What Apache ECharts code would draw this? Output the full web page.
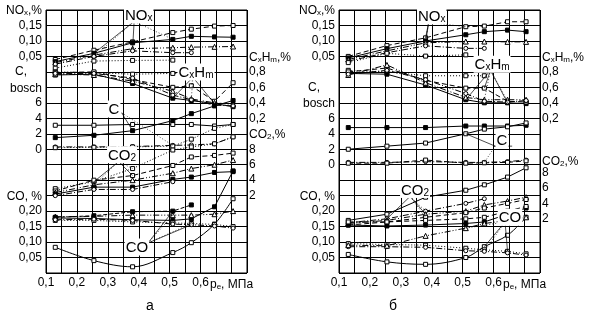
<!DOCTYPE html>
<html>
<head>
<meta charset="utf-8">
<script src="https://cdn.jsdelivr.net/npm/echarts@6/dist/echarts.min.js"></script>
<style>
html,body{margin:0;padding:0;background:#fff}
#chart{width:590px;height:321px}
</style>
</head>
<body>
<div id="chart"></div>
<script>
// нагрузка p_e, МПа (общая для обеих панелей)
const pe = [0.13, 0.255, 0.38, 0.51, 0.57, 0.645, 0.705];
const xTicks = [0.1, 0.2, 0.3, 0.4, 0.5, 0.6];

const noxTicks = [0.05, 0.10, 0.15];
const cTicks = [0, 2, 4, 6];
const coTicks = [0.05, 0.10, 0.15, 0.20];
const cxhmTicks = [0.2, 0.4, 0.6, 0.8];
const co2Ticks = [2, 4, 6, 8];

// панель а
const noxA = [
  [0.040, 0.070, 0.097, 0.127, 0.138, 0.148, 0.150],
  [0.033, 0.060, 0.094, 0.105, 0.115, 0.113, 0.112],
  [0.030, 0.054, 0.075, 0.078, 0.080, 0.081, 0.082],
  [0.025, 0.050, 0.068, 0.062, 0.062],
  [0.012, 0.035, 0.037, 0.038]
];
const cxhmA = [
  [0.80, 0.79, 0.77, 0.78, 0.78],
  [0.76, 0.77, 0.65, 0.46, 0.43, 0.39, 0.35],
  [0.79, 0.80, 0.70, 0.60, 0.62, 0.42, 0.66],
  [0.77, 0.76, 0.68, 0.55, 0.45, 0.40, 0.38],
  [0.78, 0.78, 0.72, 0.50, 0.44, 0.37, 0.36]
];
const cA = [
  [3.1, 3.1, 3.2, 3.2, 3.2, 3.0, 3.2],
  [1.5, 1.8, 2.4, 3.7, 4.6, 5.6, 6.3],
  [0.3, 0.3, 0.35, 0.5, 0.55, 0.7, 1.6],
  [0.2, 0.25, 0.3, 0.4, 1.3, 2.7, 3.2]
];
const co2A = [
  [2.9, 3.8, 5.5, 7.9, 8.3, 8.7, 9.6],
  [2.6, 4.0, 4.6, 5.9, 7.0, 7.2, 7.5],
  [2.4, 3.4, 4.0, 4.9, 5.5, 6.0, 6.6],
  [2.2, 3.1, 3.1, 4.1, 4.4, 5.0, 5.1],
  [2.0, 2.8, 2.8, 3.8]
];
const coA = [
  [0.083, 0.040, 0.020, 0.066, 0.098, 0.158, 0.240],
  [0.178, 0.176, 0.172, 0.170, 0.175, 0.214, 0.330],
  [0.182, 0.183, 0.187, 0.187, 0.187, 0.190, 0.200],
  [0.170, 0.170, 0.165, 0.162, 0.160, 0.157, 0.150],
  [0.180, 0.185, 0.198, 0.200, 0.220],
  [0.172, 0.174, 0.170, 0.158, 0.156, 0.152, 0.145]
];

// панель б
const noxB = [
  [0.050, 0.085, 0.110, 0.146, 0.148, 0.162, 0.162],
  [0.045, 0.075, 0.100, 0.120, 0.130, 0.135, 0.130],
  [0.040, 0.068, 0.094, 0.098, 0.098, 0.097, 0.097],
  [0.035, 0.062, 0.084, 0.076, 0.076],
  [0.030, 0.060, 0.051, 0.055]
];
const cxhmB = [
  [0.82, 0.80, 0.75, 0.75, 0.75],
  [0.78, 0.77, 0.63, 0.44, 0.40, 0.40, 0.39],
  [0.80, 0.85, 0.69, 0.59, 0.59, 0.42, 0.41],
  [0.76, 0.89, 0.66, 0.47, 0.44, 0.44, 0.44],
  [0.77, 0.82, 0.70, 0.52, 0.42, 0.41, 0.43]
];
const cB = [
  [4.8, 4.8, 4.8, 5.0, 5.0, 5.0, 5.1],
  [2.0, 2.4, 2.8, 4.0, 4.6, 4.9, 5.4],
  [0.3, 0.3, 0.4, 0.3, 0.3, 0.4, 0.6],
  [0.2, 0.2, 0.6, 0.2, 0.25, 0.3, 0.5]
];
const co2B = [
  [1.8, 2.6, 4.8, 5.7, 6.4, 7.4, 8.6],
  [1.5, 2.0, 3.0, 4.0, 4.6],
  [1.4, 1.8, 2.6, 3.0, 3.8, 4.3, 4.8],
  [1.2, 1.6, 2.2, 2.8, 3.4, 4.0, 4.5]
];
const coB = [
  [0.060, 0.036, 0.028, 0.050, 0.085, 0.122, 0.180],
  [0.155, 0.152, 0.155, 0.160, 0.165, 0.190, 0.210],
  [0.165, 0.165, 0.170, 0.175, 0.180, 0.200, 0.215],
  [0.095, 0.092, 0.090, 0.080, 0.075, 0.070, 0.062],
  [0.085, 0.085, 0.083, 0.072, 0.070, 0.065, 0.058],
  [0.090, 0.088, 0.120, 0.145, 0.160, 0.170, 0.180]
];

const FONT = '"Liberation Sans", Arial, sans-serif';
const RICH = {
  m: {fontSize: 12, fontFamily: FONT, color: '#000', lineHeight: 14, verticalAlign: 'bottom'},
  s: {fontSize: 8, fontFamily: FONT, color: '#000', lineHeight: 8, verticalAlign: 'bottom'},
  c: {fontSize: 12, fontFamily: FONT, color: '#000', padding: [0, 15, 0, 0]}
};
const NOTE_RICH = {
  a: {fontSize: 15, fontFamily: FONT, fill: '#000', lineHeight: 17, verticalAlign: 'bottom'},
  b: {fontSize: 10, fontFamily: FONT, fill: '#000', lineHeight: 9, verticalAlign: 'bottom'}
};

// стили линий
const styles = [
  {dash: 'solid', sym: 'rect', fill: '#000', size: 4},
  {dash: [5, 3], sym: 'rect', fill: '#fff', size: 4},
  {dash: [1, 2], sym: 'rect', fill: '#fff', size: 4},
  {dash: [6, 2, 1, 2, 1, 2], sym: 'triangle', fill: '#fff', size: 5},
  {dash: [6, 2, 1, 2], sym: 'circle', fill: '#fff', size: 4},
  {dash: 'solid', sym: 'rect', fill: '#fff', size: 4},
  {dash: [4, 2], sym: 'rect', fill: '#000', size: 4}
];

function fmtFor(ticks, names, show) {
  return v => {
    const r = Math.round(v * 1000) / 1000;
    if (names[r] !== undefined) return names[r];
    if (ticks.some(t => Math.abs(t - r) < 1e-6)) return show(r);
    return '';
  };
}
const f2 = r => r.toFixed(2).replace('.', ',');
const f1 = r => r.toFixed(1).replace('.', ',');
const f0 = r => String(Math.round(r));

function labelCfg(pos, fmt) {
  return {show: true, margin: pos === 'left' ? 4 : 2, color: '#000', fontSize: 12,
    fontFamily: FONT, formatter: fmt, rich: RICH, showMinLabel: true, showMaxLabel: true};
}
function qAxis(g, pos, min, max, interval, fmt) {
  return {type: 'value', gridIndex: g, position: pos, offset: 0, min, max, interval,
    axisLine: {show: false}, axisTick: {show: false}, splitLine: {show: false},
    axisLabel: labelCfg(pos, fmt)};
}

const xAxis = [0, 1].map(g => ({
  type: 'value', gridIndex: g, min: 0.1, max: 0.75, interval: 0.05,
  axisLine: {show: false}, axisTick: {show: false},
  splitLine: {show: true, lineStyle: {color: '#000', width: 1}},
  axisLabel: {show: true, margin: 4, color: '#000', fontSize: 12, fontFamily: FONT, rich: RICH,
    formatter: fmtFor(xTicks, {0.7: '{m|p}{s|e}{m|, МПа}'}, f1)}
}));

const noxNames = {0.2: '{m|NO}{s|x}{m|,%}'};
const coNames = {0.25: '{m|CO, %}'};
const cNames = {8: '{m|bosch}', 10: '{c|C,}'};
const cxhmNames = {1: '{m|C}{s|x}{m|H}{s|m}{m|,%}'};

const yAxis = [];
// панель а: 0 сетка, 1 NOx, 2 C, 3 CO, 4 CxHm, 5 CO2
// панель б: 6 ... 11
[0, 1].forEach(g => {
  yAxis.push({type: 'value', gridIndex: g, min: 0, max: 17, interval: 1,
    axisLine: {show: false}, axisTick: {show: false}, axisLabel: {show: false},
    splitLine: {show: true, lineStyle: {color: '#000', width: 1}}});
  yAxis.push(qAxis(g, 'left', -0.65, 0.20, 0.05, fmtFor(noxTicks, noxNames, f2)));
  yAxis.push(g === 0
    ? qAxis(g, 'left', -16, 18, 2, fmtFor(cTicks, cNames, f0))
    : qAxis(g, 'left', -14, 20, 2, fmtFor(cTicks, cNames, f0)));
  yAxis.push(qAxis(g, 'left', 0, 0.85, 0.05, fmtFor(coTicks, coNames, f2)));
  yAxis.push(qAxis(g, 'right', -1.8, 1.6, 0.2, fmtFor(cxhmTicks, cxhmNames, f1)));
  yAxis.push(g === 0
    ? qAxis(g, 'right', -8, 26, 2, fmtFor(co2Ticks, {10: '{m|CO}{s|2}{m|,%}'}, f0))
    : qAxis(g, 'right', -5, 29, 0.5, fmtFor(co2Ticks, {9.5: '{m|CO}{s|2}{m|,%}'}, f0)));
});

const series = [];
function addGroup(g, ax, rows, order, smoothRows) {
  rows.forEach((row, i) => {
    const st = styles[order[i]];
    series.push({
      type: 'line', xAxisIndex: g, yAxisIndex: g * 6 + ax, silent: true,
      data: row.map((v, j) => [pe[j], v]),
      smooth: smoothRows && smoothRows.includes(i) ? 0.35 : false,
      symbol: st.sym, symbolSize: st.size, showSymbol: true,
      itemStyle: {color: st.fill, borderColor: '#000', borderWidth: 1},
      lineStyle: {color: '#000', width: 1, type: st.dash},
      z: 3
    });
  });
}
addGroup(0, 1, noxA, [1, 0, 3, 4, 2]);
addGroup(0, 4, cxhmA, [2, 0, 1, 3, 4]);
addGroup(0, 2, cA, [5, 0, 4, 2]);
addGroup(0, 5, co2A, [2, 1, 3, 0, 4]);
addGroup(0, 3, coA, [5, 0, 3, 2, 6, 4], [0]);
addGroup(1, 1, noxB, [1, 0, 3, 4, 2]);
addGroup(1, 4, cxhmB, [2, 0, 1, 3, 4]);
addGroup(1, 2, cB, [0, 5, 4, 1]);
addGroup(1, 5, co2B, [5, 4, 3, 1]);
addGroup(1, 3, coB, [5, 0, 1, 2, 4, 3], [0]);

// подписи кривых и выноски
const notes = [
  {g: 0, ax: 1, rows: noxA, text: '{a|NO}{b|x}', at: [0.40, 0.184], from: [0.385, 0.163], to: [[1, 1], [3, 1], [2, 2], [1, 3]]},
  {g: 0, ax: 4, rows: cxhmA, text: '{a|C}{b|x}{a|H}{b|m}', at: [0.585, 0.80], from: [0.575, 0.73], to: [[1, 3], [3, 4], [1, 5], [2, 4]]},
  {g: 0, ax: 2, rows: cA, text: '{a|C}', at: [0.32, 5.2], from: [0.345, 4.7], to: [[1, 2], [2, 3]]},
  {g: 0, ax: 5, rows: co2A, text: '{a|CO}{b|2}', at: [0.346, 7.3], from: [0.335, 6.4], bar: [0.32, 0.375], to: [[0, 1], [2, 1], [1, 2], [0, 2]]},
  {g: 0, ax: 3, rows: coA, text: '{a|CO}', at: [0.394, 0.084], from: [0.43, 0.097], to: [[4, 3], [2, 3], [5, 4], [3, 4]]},
  {g: 1, ax: 1, rows: noxB, text: '{a|NO}{b|x}', at: [0.40, 0.181], from: [0.39, 0.16], to: [[0, 2], [1, 2], [2, 2], [0, 3]]},
  {g: 1, ax: 4, rows: cxhmB, text: '{a|C}{b|x}{a|H}{b|m}', at: [0.595, 0.90], from: [0.59, 0.82], to: [[1, 3], [3, 4], [2, 4], [2, 5], [1, 5]]},
  {g: 1, ax: 2, rows: cB, text: '{a|C}', at: [0.627, 3.2], from: [0.605, 2.4], bar: [0.60, 0.66], to: [[1, 3], [2, 4]]},
  {g: 1, ax: 5, rows: co2B, text: '{a|CO}{b|2}', at: [0.346, 5.8], from: [0.33, 4.9], bar: [0.32, 0.375], to: [[1, 1], [3, 2], [2, 2], [1, 2]]},
  {g: 1, ax: 3, rows: coB, text: '{a|CO}', at: [0.653, 0.18], from: [0.637, 0.165], to: [[0, 4], [5, 3], [3, 5], [4, 4]]}
];
notes.forEach(n => {
  const yi = n.g * 6 + n.ax;
  const lines = n.to.map(([r, j]) => [n.from, [pe[j], n.rows[r][j]]]);
  if (n.bar) lines.push([[n.bar[0], n.from[1]], [n.bar[1], n.from[1]]]);
  lines.forEach((seg, k) => series.push({
    type: 'line', xAxisIndex: n.g, yAxisIndex: yi, silent: true, symbol: 'none',
    data: seg, lineStyle: {color: '#000', width: 0.7, type: k % 2 ? [1, 2] : 'solid'}, z: 4
  }));
});

const chart = echarts.init(document.getElementById('chart'));
chart.setOption({
  animation: false,
  backgroundColor: '#fff',
  grid: [46, 339].map(left => ({left, top: 10, width: 201, height: 263, show: true,
    borderColor: '#000', borderWidth: 1, containLabel: false, outerBoundsMode: 'none'})),
  xAxis, yAxis, series
});

// подписи кривых ставим через шкалы осей
const graphic = notes.map(n => {
  const [px, py] = chart.convertToPixel({xAxisIndex: n.g, yAxisIndex: n.g * 6 + n.ax}, n.at);
  return {type: 'text', x: px, y: py, z: 100, silent: true,
    style: {text: n.text, rich: NOTE_RICH, fill: '#000', align: 'center', verticalAlign: 'middle',
      backgroundColor: '#fff', padding: [0, 1, 0, 1]}};
});
graphic.push(
  {type: 'text', left: 146, top: 299, style: {text: 'а', font: '14px ' + FONT, fill: '#000'}},
  {type: 'text', left: 389, top: 299, style: {text: 'б', font: '14px ' + FONT, fill: '#000'}}
);
chart.setOption({graphic});
</script>
</body>
</html>
